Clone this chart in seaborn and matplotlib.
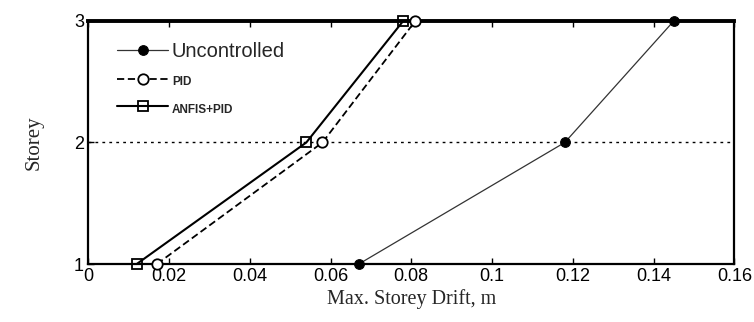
import matplotlib
matplotlib.use("Agg")
import matplotlib.pyplot as plt
import seaborn as sns
import pandas as pd

# Maximum storey drift (m) for each control case
storeys = [1, 2, 3]
uncontrolled = [0.067, 0.118, 0.145]
pid = [0.017, 0.058, 0.081]
anfis_pid = [0.012, 0.054, 0.078]

xticks = [0, 0.02, 0.04, 0.06, 0.08, 0.1, 0.12, 0.14, 0.16]
xtick_labels = ["0", "0.02", "0.04", "0.06", "0.08", "0.1", "0.12", "0.14", "0.16"]

sns.set_theme(style="white")
plt.rcParams["font.family"] = ["Liberation Sans", "DejaVu Sans"]

fig, ax = plt.subplots(figsize=(7.54, 3.22), dpi=100)
fig.subplots_adjust(left=0.117, right=0.974, top=0.935, bottom=0.18)

# dotted reference line at storey 2
ax.axhline(2, color="black", linestyle=(0, (2, 3)), linewidth=1.0, zorder=1)

series = [
    ("Uncontrolled", uncontrolled, dict(color="#333333", linestyle="-", linewidth=0.9,
                                        marker="o", markersize=7, markerfacecolor="black",
                                        markeredgecolor="black")),
    ("PID", pid, dict(color="black", linestyle=(0, (4, 2)), linewidth=1.3,
                      marker="o", markersize=7.5, markerfacecolor="white",
                      markeredgecolor="black", markeredgewidth=1.3)),
    ("ANFIS+PID", anfis_pid, dict(color="black", linestyle="-", linewidth=1.5,
                                  marker="s", markersize=7.5, markerfacecolor="none",
                                  markeredgecolor="black", markeredgewidth=1.3)),
]

for name, vals, style in series:
    df = pd.DataFrame({"drift": vals, "storey": storeys})
    sns.lineplot(data=df, x="drift", y="storey", sort=False, estimator=None,
                 ax=ax, label=name, zorder=3, clip_on=False, **style)

ax.set_xlim(0, 0.16)
ax.set_ylim(1, 3)
ax.set_xticks(xticks)
ax.set_xticklabels(xtick_labels)
ax.set_yticks(storeys)
ax.set_yticklabels([str(s) for s in storeys])
ax.tick_params(direction="in", length=4, width=1, labelsize=13, colors="black",
               top=True, bottom=True, left=True, right=False, pad=3)

for side, spine in ax.spines.items():
    spine.set_visible(True)
    spine.set_color("black")
    spine.set_linewidth(1.6)
ax.spines["top"].set_linewidth(2.8)

ax.set_xlabel("Max. Storey Drift, m", family="Liberation Serif", fontsize=14.5, labelpad=3)
ax.set_ylabel("Storey", family="Liberation Serif", fontsize=15, labelpad=22)

leg = ax.legend(loc="upper left", bbox_to_anchor=(0.018, 0.985), frameon=False,
                handlelength=2.6, handletextpad=0.2, labelspacing=0.55, fontsize=14)
texts = leg.get_texts()
texts[0].set_fontsize(14.5)
for t in texts[1:]:
    t.set_fontsize(8.5)
    t.set_fontweight("bold")

fig.savefig("out.png", dpi=100)
